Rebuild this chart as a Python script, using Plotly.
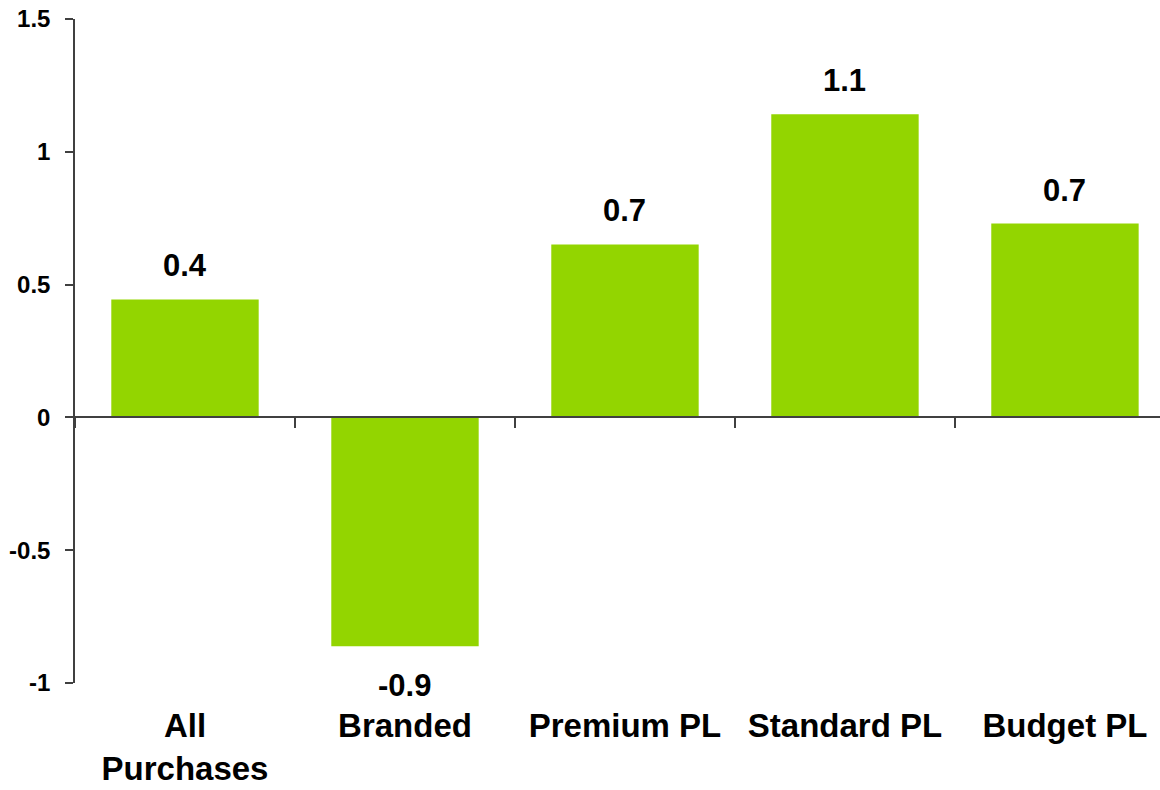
import plotly.graph_objects as go

categories = ["All<br>Purchases", "Branded", "Premium PL", "Standard PL", "Budget PL"]
values = [0.444, -0.862, 0.651, 1.141, 0.730]
y_ticks = [-1, -0.5, 0, 0.5, 1, 1.5]
y_tick_labels = ["-1", "-0.5", "0", "0.5", "1", "1.5"]

BAR = "#93D500"
AXIS = "#404040"
FONT = "Liberation Sans, Arial, sans-serif"

fig = go.Figure()
fig.add_trace(go.Bar(x=categories, y=values, marker=dict(color=BAR, line=dict(width=0)),
                     width=0.67, hoverinfo="skip"))
# invisible copy on the zero-line axis so its category boundaries get ticks
fig.add_trace(go.Bar(x=categories, y=values, xaxis="x2", opacity=0, width=0.67,
                     hoverinfo="skip", showlegend=False))

for c, v in zip(categories, values):
    fig.add_annotation(x=c, y=v, text=f"{v:.1f}", showarrow=False,
                       yanchor="bottom" if v >= 0 else "top",
                       yshift=14 if v >= 0 else -20,
                       font=dict(family=FONT, size=31, color="#000000", weight="bold"))

x_range = [-0.5, 4.432]
fig.update_layout(
    width=1160, height=790,
    margin=dict(l=75, r=0, t=19, b=107, autoexpand=False),
    plot_bgcolor="white", paper_bgcolor="white",
    showlegend=False,
    bargap=0.33,
    xaxis=dict(type="category", range=x_range, showline=False, ticks="", automargin=False,
               showgrid=False, zeroline=False, ticklabelstandoff=20,
               tickfont=dict(family=FONT, size=33, color="#000000", weight="bold")),
    xaxis2=dict(type="category", range=x_range, overlaying="x", anchor="free", position=0.4,
                side="bottom", showline=True, linecolor=AXIS, linewidth=1.5, automargin=False,
                ticks="outside", tickson="boundaries", ticklen=10, tickcolor=AXIS, tickwidth=1.5,
                showticklabels=False, showgrid=False, zeroline=False),
    yaxis=dict(range=[-1, 1.5], tickvals=y_ticks, ticktext=y_tick_labels, automargin=False,
               showline=True, linecolor=AXIS, linewidth=1.5,
               ticks="outside", ticklen=8, tickcolor=AXIS, tickwidth=1.5,
               showgrid=False, zeroline=False, ticklabelstandoff=10,
               tickfont=dict(family=FONT, size=24, color="#000000", weight="bold")),
)

fig.write_html("out.html")
